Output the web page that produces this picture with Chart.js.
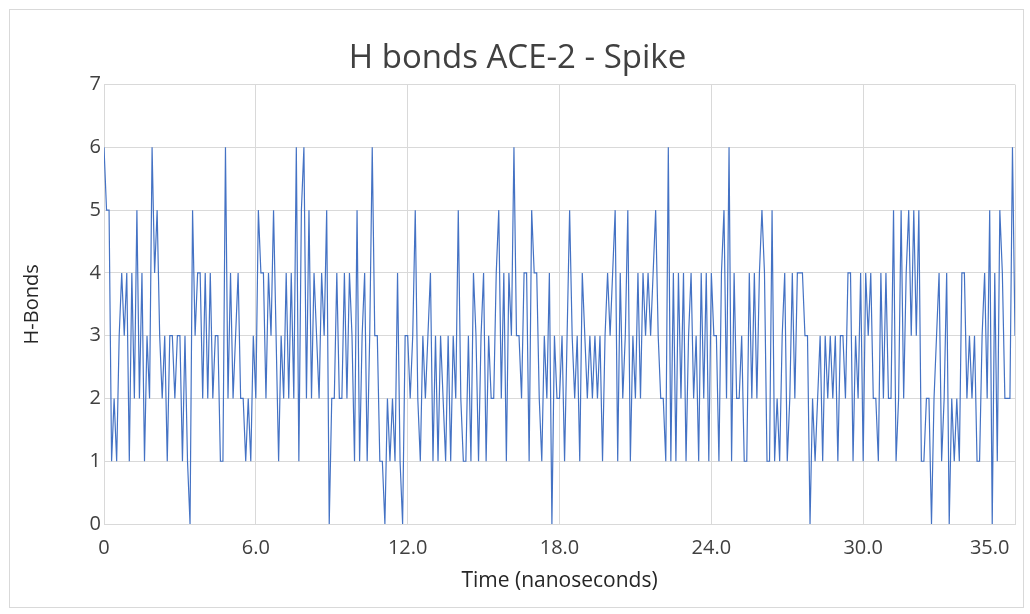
<!DOCTYPE html>
<html>
<head>
<meta charset="utf-8">
<script src="https://cdn.jsdelivr.net/npm/chart.js@4"></script>
<style>
  html, body { margin: 0; padding: 0; background: #ffffff; }
  #c { display: block; }
</style>
</head>
<body>
<canvas id="c" width="1030" height="614"></canvas>
<script>
// ---- data ----
const chartTitle = 'H bonds ACE-2 - Spike';
const xTitle = 'Time (nanoseconds)';
const yTitle = 'H-Bonds';
const timeStepNs = 0.1;
const xTickValues = [0, 6, 12, 18, 24, 30, 35, 36];
const xTickLabels = ['0', '6.0', '12.0', '18.0', '24.0', '30.0', '35.0', ''];
const yTickValues = [0, 1, 2, 3, 4, 5, 6, 7];

const hBonds = [
  6,5,5,1,2,1,3,4,3,4,1,4,2,5,2,4,1,3,2,6,4,5,3,2,3,1,3,3,2,3,
  3,1,3,1,0,5,3,4,4,2,4,2,4,2,3,3,1,1,6,2,4,2,3,4,2,2,1,2,1,3,2,
  5,4,4,2,4,3,5,3,1,3,2,4,2,4,2,6,1,5,6,2,5,2,4,3,2,4,3,5,0,2,
  2,4,2,2,4,2,4,3,1,5,1,3,4,1,3,6,3,3,1,1,0,2,1,2,1,4,1,0,3,3,2,
  3,5,2,1,3,2,3,4,1,3,1,3,2,1,3,1,3,2,5,2,1,1,3,1,4,3,1,3,4,
  1,3,2,2,4,5,2,4,1,4,3,6,3,3,2,4,4,1,5,4,4,2,1,3,2,4,0,3,2,2,3,
  1,3,5,3,2,3,1,4,3,2,3,2,3,2,3,1,3,4,3,4,5,1,4,2,3,5,1,3,2,4,
  2,4,3,4,3,4,5,3,2,2,1,6,1,4,1,4,2,4,1,3,4,2,3,1,4,2,4,1,4,3,
  3,1,4,5,2,6,1,4,2,2,3,1,1,4,2,4,2,4,5,4,1,1,5,1,2,1,3,4,1,2,4,
  2,4,4,4,3,3,0,2,1,2,3,1,3,2,3,2,3,1,3,3,2,4,4,1,3,2,4,1,4,3,
  4,2,2,1,4,2,4,2,2,5,1,2,5,2,4,5,3,5,3,5,1,1,2,2,0,2,3,4,1,2,4,
  0,2,1,2,1,4,4,2,3,2,3,1,1,3,4,2,5,0,4,1,5,4,2,2,2,6,3
];

const points = hBonds.map((v, i) => ({ x: +(i * timeStepNs).toFixed(1), y: v }));

const FONT = "'Open Sans', 'DejaVu Sans', sans-serif";
const GRID = '#d9d9d9';
const TEXT = '#404040';

const frame = {
  id: 'frame',
  beforeDraw(chart) {
    const ctx = chart.ctx;
    ctx.save();
    ctx.fillStyle = '#ffffff';
    ctx.fillRect(0, 0, chart.width, chart.height);
    ctx.strokeStyle = '#d9d9d9';
    ctx.lineWidth = 1;
    ctx.strokeRect(9.5, 9.5, 1014, 598);
    ctx.restore();
  }
};

new Chart(document.getElementById('c'), {
  type: 'line',
  data: {
    datasets: [{
      data: points,
      borderColor: '#4472C4',
      borderWidth: 1.2,
      pointRadius: 0,
      tension: 0,
      fill: false
    }]
  },
  options: {
    responsive: false,
    animation: false,
    layout: { padding: { left: 20, right: 15, top: 20, bottom: 20 } },
    plugins: {
      legend: { display: false },
      tooltip: { enabled: false },
      title: {
        display: true,
        text: chartTitle,
        color: TEXT,
        font: { family: FONT, size: 33, weight: 'normal' },
        padding: { top: 19, bottom: 6 }
      }
    },
    scales: {
      x: {
        type: 'linear',
        min: 0,
        max: 36,
        afterBuildTicks(scale) { scale.ticks = xTickValues.map(v => ({ value: v })); },
        afterFit(scale) { scale.height = 70; },
        ticks: {
          color: TEXT,
          font: { family: FONT, size: 20 },
          padding: 12,
          maxRotation: 0,
          autoSkip: false,
          callback: (v) => { const k = xTickValues.indexOf(v); return k >= 0 ? xTickLabels[k] : ''; }
        },
        grid: {
          color: (c) => (c.tick && xTickLabels[xTickValues.indexOf(c.tick.value)] === '35.0') ? 'rgba(0,0,0,0)' : GRID,
          lineWidth: 1,
          drawTicks: false
        },
        border: { color: GRID },
        title: {
          display: true,
          text: xTitle,
          color: '#262626',
          font: { family: FONT, size: 21 },
          padding: { top: 6, bottom: 0 }
        }
      },
      y: {
        min: 0,
        max: 7,
        afterBuildTicks(scale) { scale.ticks = yTickValues.map(v => ({ value: v })); },
        afterFit(scale) { scale.width = 84; },
        ticks: {
          color: TEXT,
          font: { family: FONT, size: 20 },
          padding: 3
        },
        grid: { color: GRID, lineWidth: 1, drawTicks: false },
        border: { color: GRID },
        title: {
          display: true,
          text: yTitle,
          color: '#262626',
          font: { family: FONT, size: 20 },
          padding: { top: 0, bottom: 10 }
        }
      }
    }
  },
  plugins: [frame]
});
</script>
</body>
</html>
